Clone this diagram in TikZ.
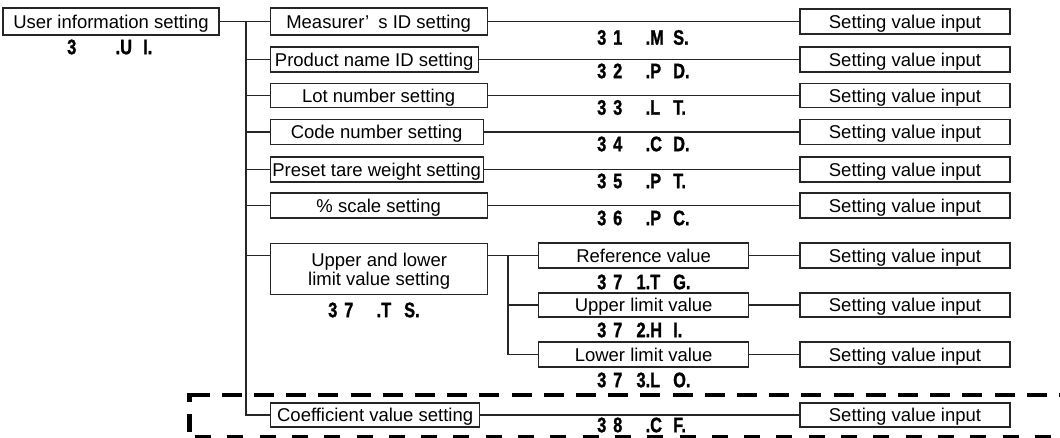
\documentclass[tikz,border=0pt]{standalone}
\usepackage{fontspec}
\setmainfont{Liberation Sans}
\newfontfamily\codefont[FakeStretch=0.78,FakeBold=1.2]{Liberation Sans Bold}
\newcommand\cd[5]{\makebox[16pt][l]{#1}\makebox[16pt][l]{#2}\makebox[21pt][r]{#3}\makebox[23pt][l]{#4}#5.}
\tikzset{
  boxbase/.style={draw=black!85, line width=1.3pt, inner sep=0pt,
    font=\fontsize{18.5}{19.5}\selectfont, minimum height=25pt},
  box/.style={boxbase, text height=13.2pt, text depth=0pt},
  code/.style={inner sep=0pt, anchor=west, font=\codefont\fontsize{21}{21}\selectfont},
  conn/.style={draw=black!85, line width=1.2pt},
  dashfr/.style={line width=4.5pt, black},
}
\begin{document}
\begin{tikzpicture}[x=1pt,y=-1pt]
\useasboundingbox (0,0) rectangle (1060,437);

% root
\node[box, minimum width=216pt, minimum height=27pt] (user) at (111,21.5) {User information setting};
\node[code] (kui) at (67,47) {\cd{3}{}{.}{U}{I}};

% first level
\node[box, anchor=west, minimum width=217pt, minimum height=27pt] (ms) at (269.5,21.5) {Measurer’\hspace{0.5em}s ID setting};
\node[box, anchor=west, minimum width=208pt] (pd) at (269.5,59.5) {Product name ID setting};
\node[box, anchor=west, minimum width=217pt, minimum height=24pt] (lt) at (269.5,95.5) {Lot number setting};
\node[box, anchor=west, minimum width=213pt] (cn) at (269.5,132) {Code number setting};
\node[box, anchor=west, minimum width=213pt] (pt) at (269.5,169.5) {Preset tare weight setting};
\node[box, anchor=west, minimum width=217pt] (pc) at (269.5,205.5) {\% scale setting};
\node[boxbase, anchor=north west, minimum width=217pt, minimum height=51pt, align=center, text depth=0pt] (ts) at (270,243) {Upper and lower\\limit value setting};
\node[code] (kts) at (328,310) {\cd{3}{7}{.}{T}{S}};
\node[box, anchor=west, minimum width=209pt, minimum height=24pt] (cf) at (270,415) {Coefficient value setting};

% second level under ts
\node[box, anchor=west, minimum width=210pt] (tg) at (538,255.5) {Reference value};
\node[box, anchor=west, minimum width=210pt, minimum height=24pt] (hi) at (538,305) {Upper limit value};
\node[box, anchor=west, minimum width=210pt] (lo) at (538,354.5) {Lower limit value};

% setting value input boxes
\node[box, minimum width=210pt] (s1) at (905,21.5) {Setting value input};
\node[box, minimum width=210pt] (s2) at (905,59.5) {Setting value input};
\node[box, minimum width=210pt, minimum height=24pt] (s3) at (905,95.5) {Setting value input};
\node[box, minimum width=210pt] (s4) at (905,132) {Setting value input};
\node[box, minimum width=210pt] (s5) at (905,169.5) {Setting value input};
\node[box, minimum width=210pt] (s6) at (905,205.5) {Setting value input};
\node[box, minimum width=210pt] (s71) at (905,255.5) {Setting value input};
\node[box, minimum width=210pt, minimum height=24pt] (s72) at (905,305) {Setting value input};
\node[box, minimum width=210pt] (s73) at (905,354.5) {Setting value input};
\node[box, minimum width=210pt, minimum height=24pt] (s8) at (905,415) {Setting value input};

% codes
\node[code] (k31) at (597,37.5) {\cd{3}{1}{.}{M}{S}};
\node[code] (k32) at (597,71) {\cd{3}{2}{.}{P}{D}};
\node[code] (k33) at (597,107.5) {\cd{3}{3}{.}{L}{T}};
\node[code] (k34) at (597,144) {\cd{3}{4}{.}{C}{D}};
\node[code] (k35) at (597,181) {\cd{3}{5}{.}{P}{T}};
\node[code] (k36) at (597,218) {\cd{3}{6}{.}{P}{C}};
\node[code] (k371) at (597,282) {\cd{3}{7}{1.}{T}{G}};
\node[code] (k372) at (597,330) {\cd{3}{7}{2.}{H}{I}};
\node[code] (k373) at (597,380) {\cd{3}{7}{3.}{L}{O}};
\node[code] (k38) at (597,425) {\cd{3}{8}{.}{C}{F}};

% trunk coordinates
\coordinate (t1) at (246,21.5);
\coordinate (t2) at (246,59.5);
\coordinate (t3) at (246,95.5);
\coordinate (t4) at (246,132);
\coordinate (t5) at (246,169.5);
\coordinate (t6) at (246,205.5);
\coordinate (t7) at (246,255.5);
\coordinate (t8) at (246,415);
\coordinate (u1) at (508,255.5);
\coordinate (u2) at (508,305);
\coordinate (u3) at (508,354.5);

% connectors
\draw[conn] (user.east) -- (t1) -- (ms.west);
\draw[conn] (t1) -- (t8) -- (cf.west);
\draw[conn] (t2) -- (pd.west);
\draw[conn] (t3) -- (lt.west);
\draw[conn] (t4) -- (cn.west);
\draw[conn] (t5) -- (pt.west);
\draw[conn] (t6) -- (pc.west);
\draw[conn] (t7) -- (t7 -| ts.west);

\draw[conn] (ms.east) -- (s1.west);
\draw[conn] (pd.east) -- (s2.west);
\draw[conn] (lt.east) -- (s3.west);
\draw[conn] (cn.east) -- (s4.west);
\draw[conn] (pt.east) -- (s5.west);
\draw[conn] (pc.east) -- (s6.west);
\draw[conn] (cf.east) -- (s8.west);

\draw[conn] (tg.west -| ts.east) -- (u1) -- (tg.west);
\draw[conn] (u1) -- (u3) -- (lo.west);
\draw[conn] (u2) -- (hi.west);
\draw[conn] (tg.east) -- (s71.west);
\draw[conn] (hi.east) -- (s72.west);
\draw[conn] (lo.east) -- (s73.west);

% dashed frame
\draw[dashfr] (189.5,402) -- (189.5,395) -- (210,395);
\draw[dashfr, dash pattern=on 20pt off 12.2pt] (221.7,395) -- (1075,395);
\draw[dashfr] (189.5,414) -- (189.5,432);
\draw[dashfr, dash pattern=on 16pt off 16.3pt] (195,437.5) -- (1075,437.5);
\end{tikzpicture}
\end{document}
